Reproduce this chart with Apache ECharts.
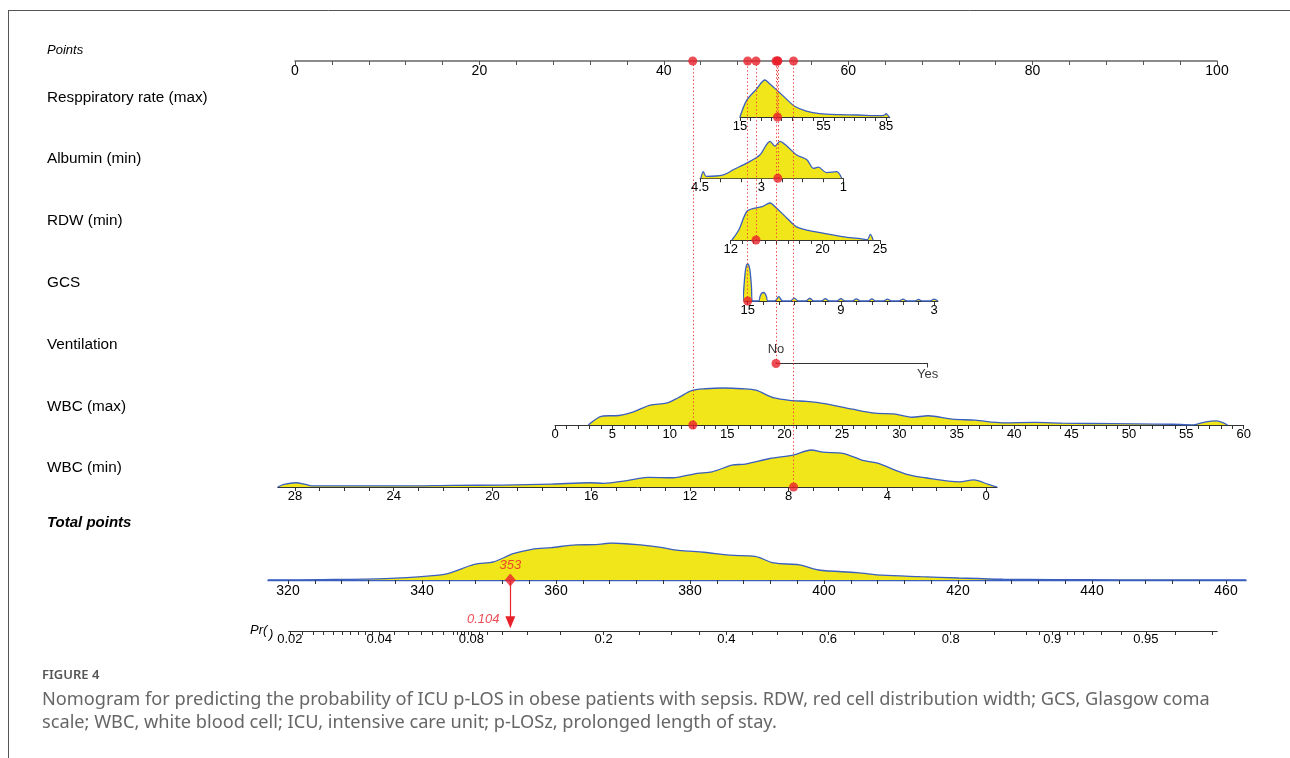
<!DOCTYPE html>
<html>
<head>
<meta charset="utf-8">
<title>Nomogram</title>
<script src="https://cdn.jsdelivr.net/npm/echarts@6/dist/echarts.min.js"></script>
<style>
  html, body { margin: 0; padding: 0; background: #fff; }
  #main { width: 1290px; height: 758px; }
</style>
</head>
<body>
<div id="main"></div>
<script>
// ---- values ----
const rowNames = ['Resppiratory rate (max)', 'Albumin (min)', 'RDW (min)', 'GCS', 'Ventilation', 'WBC (max)', 'WBC (min)'];

// value -> points: two reference values and their points
const rrRef = [15, 85],  rrPts = [48.26, 64.1];
const albRef = [4.5, 1], albPts = [43.93, 59.47];
const rdwRef = [12, 25], rdwPts = [47.26, 63.45];
const gcsRef = [15, 3],  gcsPts = [49.1, 69.31];
const ventRef = [0, 1],  ventPts = [52.17, 68.62];
const wbcMaxRef = [0, 60], wbcMaxPts = [28.2, 102.9];
const wbcMinRef = [28, 0], wbcMinPts = [0, 74.95];

// the patient marked in red
const patient = [33, 2.6, 14.2, 15, 0, 12, 7.8];
const predProb = 0.104;

// axis ranges, ticks and labels
const rrExt = [15, 86.8],   rrTicks = [15, 20, 25, 30, 35, 40, 45, 50, 55, 60, 65, 70, 75, 80, 85], rrLabels = [15, 55, 85];
const albExt = [1, 4.5],    albTicks = [1, 1.5, 2, 2.5, 3, 3.5, 4, 4.5], albLabels = [4.5, 3, 1];
const rdwExt = [12, 25],    rdwTicks = [12, 13, 14, 15, 16, 17, 18, 19, 20, 21, 22, 23, 24, 25], rdwLabels = [12, 20, 25];
const gcsExt = [2.75, 15.2], gcsTicks = [3, 4, 5, 6, 7, 8, 9, 10, 11, 12, 13, 14, 15], gcsLabels = [15, 9, 3];
const ventExt = [0, 1],     ventTicks = [1], ventLevels = ['No', 'Yes'];
const wbcMaxExt = [0, 60],  wbcMaxTicks = [0, 1, 2, 3, 4, 5, 6, 7, 8, 9, 10, 11, 12, 13, 14, 15, 16, 17, 18, 19, 20, 21, 22, 23, 24, 25, 26, 27, 28, 29, 30, 31, 32, 33, 34, 35, 36, 37, 38, 39, 40, 41, 42, 43, 44, 45, 46, 47, 48, 49, 50, 51, 52, 53, 54, 55, 56, 57, 58, 59, 60];
const wbcMaxLabels = [0, 5, 10, 15, 20, 25, 30, 35, 40, 45, 50, 55, 60];
const wbcMinExt = [-0.45, 28.7], wbcMinTicks = [0, 1, 2, 3, 4, 5, 6, 7, 8, 9, 10, 11, 12, 13, 14, 15, 16, 17, 18, 19, 20, 21, 22, 23, 24, 25, 26, 27, 28];
const wbcMinLabels = [28, 24, 20, 16, 12, 8, 4, 0];

const pointsLabels = [0, 20, 40, 60, 80, 100];
const totalExt = [317, 463];
const totalTicks = [320, 324, 328, 332, 336, 340, 344, 348, 352, 356, 360, 364, 368, 372, 376, 380, 384, 388, 392, 396, 400, 404, 408, 412, 416, 420, 424, 428, 432, 436, 440, 444, 448, 452, 456, 460];
const totalLabels = [320, 340, 360, 380, 400, 420, 440, 460];

// probability axis: logit(p) = prA + prB * total points
const prA = -21.03, prB = 0.05351;
const prExt = [320.1, 458.7];
const prLabels = [0.02, 0.04, 0.08, 0.2, 0.4, 0.6, 0.8, 0.9, 0.95];
const prTicks = [0.02, 0.022, 0.024, 0.026, 0.028, 0.03, 0.032, 0.034, 0.036, 0.038, 0.04, 0.045, 0.05, 0.055, 0.06, 0.065, 0.07, 0.072, 0.074,
  0.076, 0.078, 0.08, 0.085, 0.09, 0.1, 0.12, 0.15, 0.2, 0.25, 0.3, 0.35, 0.4, 0.45, 0.5, 0.55, 0.6, 0.65, 0.7, 0.75, 0.8, 0.85,
  0.88, 0.89, 0.9, 0.905, 0.91, 0.915, 0.92, 0.93, 0.94, 0.95, 0.96, 0.97];

// densities: [value, relative height]
const rrDensity = [[15, 0], [18.2, 0.45], [23, 0.76], [27, 1], [29.2, 0.9], [32.4, 0.74], [37.2, 0.49], [41.2, 0.29], [46.8, 0.16],
  [53.2, 0.09], [62.8, 0.063], [71.5, 0.054], [82, 0.035], [84.3, 0.05], [85, 0.09], [85.8, 0.05], [86.6, 0]];
const albDensity = [[1.04, 0], [1.16, 0.18], [1.41, 0.155], [1.61, 0.3], [1.73, 0.27], [1.89, 0.5], [2.14, 0.63], [2.38, 0.87],
  [2.55, 1.0], [2.67, 0.87], [2.79, 1.0], [3.04, 0.63], [3.36, 0.41], [3.69, 0.23], [3.93, 0.09], [4.35, 0.05], [4.42, 0.18], [4.48, 0]];
const rdwDensity = [[12.1, 0], [12.7, 0.27], [13.4, 0.77], [14.1, 0.86], [14.8, 0.91], [15.4, 1.0], [16.0, 0.86], [16.9, 0.59],
  [17.7, 0.36], [18.6, 0.27], [19.8, 0.2], [20.9, 0.136], [22.1, 0.073], [23.3, 0.036], [23.9, 0.01], [24.15, 0.15], [24.4, 0]];
const gcsDensity = [[2.75, 0], [3, 0.05], [3.25, 0], [3.75, 0], [4, 0.04], [4.25, 0], [4.75, 0], [5, 0.05], [5.25, 0], [5.75, 0], [6, 0.05],
  [6.25, 0], [6.75, 0], [7, 0.055], [7.25, 0], [7.75, 0], [8, 0.06], [8.25, 0], [8.75, 0], [9, 0.065], [9.25, 0], [9.75, 0], [10, 0.065],
  [10.25, 0], [10.75, 0], [11, 0.075], [11.25, 0], [11.75, 0], [12, 0.08], [12.25, 0], [12.75, 0], [13, 0.12], [13.25, 0], [13.7, 0],
  [13.8, 0.13], [13.9, 0.21], [14, 0.23], [14.1, 0.21], [14.2, 0.13], [14.3, 0], [14.7, 0], [14.76, 0.4], [14.84, 0.78], [14.92, 0.96],
  [15, 1], [15.08, 0.96], [15.16, 0.78], [15.24, 0.4], [15.3, 0]];
const wbcMaxDensity = [[2.9, 0], [3.9, 0.22], [4.7, 0.25], [5.3, 0.25], [6.7, 0.34], [8.3, 0.54], [9.7, 0.59], [10.7, 0.73], [11.9, 0.93],
  [13.1, 0.98], [14.7, 1.0], [16.3, 0.98], [17.5, 0.94], [19.1, 0.73], [20.7, 0.66], [21.9, 0.64], [23.5, 0.58], [25.9, 0.43],
  [27.9, 0.32], [29.5, 0.30], [31.1, 0.21], [32.5, 0.25], [34.6, 0.16], [36.6, 0.13], [39.0, 0.06], [41.8, 0.07], [44.2, 0.05],
  [46.6, 0.04], [50.6, 0.03], [53.8, 0.02], [55.5, 0.005], [56.6, 0.08], [57.6, 0.11], [58.6, 0]];
const wbcMinDensity = [[-0.45, 0], [-0.1, 0.07], [0.5, 0.19], [1.08, 0.14], [2.46, 0.25], [3.25, 0.35], [4.43, 0.65], [5.0, 0.72],
  [5.8, 0.91], [6.6, 0.94], [7.09, 1.0], [7.78, 0.87], [8.76, 0.77], [9.75, 0.62], [10.3, 0.59], [11.1, 0.41], [11.7, 0.37],
  [12.7, 0.25], [13.7, 0.26], [14.5, 0.18], [15.5, 0.10], [16.05, 0.115], [17.6, 0.08], [19.6, 0.05], [21.6, 0.045], [23.5, 0.03],
  [25.5, 0.03], [27.27, 0.03], [27.57, 0.07], [27.96, 0.115], [28.45, 0.07], [28.7, 0]];
const totalDensity = [[317, 0], [325, 0.01], [334.5, 0.036], [341.2, 0.11], [344, 0.18], [347.8, 0.42], [350.7, 0.49], [353.6, 0.71],
  [356.4, 0.83], [359.3, 0.875], [363, 0.95], [365.9, 0.955], [368.3, 1.0], [372.6, 0.95], [375.4, 0.89], [378.3, 0.80], [382.1, 0.75],
  [385.9, 0.67], [389.7, 0.64], [392.5, 0.46], [396.3, 0.41], [399.2, 0.27], [404.9, 0.2], [408.7, 0.13], [414.4, 0.09], [420.1, 0.054],
  [426.7, 0.02], [434.3, 0.01], [443.9, 0.005], [463, 0]];

// ---- layout ----
const PTS_X0 = 295, PTS_PX = 9.22;     // pixel of 0 points, pixels per point
const POINTS_Y = 61, DENS_H = 37;
const TOT_X0 = 288, TOT_PX = 6.7;       // pixel of 320 total points, pixels per total point
const TOTAL_Y = 580, PR_Y = 631;
const rowY = [117, 178.3, 240, 301, 363.5, 425, 487];
const labelY = [98, 159, 221, 283, 345, 407, 468];

const RED = '#e8202a', YEL = '#f1e619', BLUE = '#3a5fbf', AX = '#333';
const FONT = "'Liberation Sans', Arial, sans-serif";
const CAP_FONT = "'Noto Sans', sans-serif";

const rows = [
  { ref: rrRef, pts: rrPts, ext: rrExt, ticks: rrTicks, labels: rrLabels, dens: rrDensity },
  { ref: albRef, pts: albPts, ext: albExt, ticks: albTicks, labels: albLabels, dens: albDensity },
  { ref: rdwRef, pts: rdwPts, ext: rdwExt, ticks: rdwTicks, labels: rdwLabels, dens: rdwDensity },
  { ref: gcsRef, pts: gcsPts, ext: gcsExt, ticks: gcsTicks, labels: gcsLabels, dens: gcsDensity },
  { ref: ventRef, pts: ventPts, ext: ventExt, ticks: ventTicks, labels: [], dens: null },
  { ref: wbcMaxRef, pts: wbcMaxPts, ext: wbcMaxExt, ticks: wbcMaxTicks, labels: wbcMaxLabels, dens: wbcMaxDensity },
  { ref: wbcMinRef, pts: wbcMinPts, ext: wbcMinExt, ticks: wbcMinTicks, labels: wbcMinLabels, dens: wbcMinDensity }
];

function toPts(r, v) {
  return r.pts[0] + (v - r.ref[0]) * (r.pts[1] - r.pts[0]) / (r.ref[1] - r.ref[0]);
}
function prToTotal(p) { return (Math.log(p / (1 - p)) - prA) / prB; }
function totalToPr(t) { return 1 / (1 + Math.exp(-(prA + prB * t))); }

const grid = [], xAxis = [], yAxis = [], series = [];

function tickAxis(gi, ext, ticks, labels, extra) {
  return Object.assign({
    gridIndex: gi, type: 'value', min: ext[0], max: ext[1], position: 'bottom',
    axisLine: { show: true, onZero: false, lineStyle: { color: AX, width: 1 } },
    axisTick: { show: true, customValues: ticks, length: 4, lineStyle: { color: AX, width: 1 } },
    axisLabel: { customValues: labels, margin: 3, fontSize: 13, color: '#000', fontFamily: FONT },
    splitLine: { show: false }
  }, extra || {});
}

// points axis (grid 0)
grid.push({ left: PTS_X0, width: 100 * PTS_PX, top: POINTS_Y - 30, height: 30 });
xAxis.push(tickAxis(0, [0, 100], null, pointsLabels, {
  interval: 4,
  axisLine: { show: true, onZero: false, lineStyle: { color: '#666', width: 1.6 } },
  axisTick: { show: true, length: 4, lineStyle: { color: '#555', width: 1 } },
  axisLabel: { customValues: pointsLabels, margin: 3, fontSize: 14, color: '#000', fontFamily: FONT }
}));
yAxis.push({ gridIndex: 0, type: 'value', min: 0, max: 1, show: false });
series.push({
  type: 'scatter', xAxisIndex: 0, yAxisIndex: 0, clip: false, z: 6, symbolSize: 9,
  itemStyle: { color: RED }, silent: true,
  data: rows.map((r, i) => [toPts(r, patient[i]), 0])
});

// variable rows
rows.forEach((r, i) => {
  const gi = grid.length;
  const a = toPts(r, r.ext[0]), b = toPts(r, r.ext[1]);
  grid.push({
    left: PTS_X0 + Math.min(a, b) * PTS_PX, width: Math.abs(b - a) * PTS_PX,
    top: POINTS_Y, height: rowY[i] - POINTS_Y
  });
  xAxis.push(tickAxis(gi, r.ext, r.ticks, r.labels, { inverse: b < a }));
  yAxis.push({ gridIndex: gi, type: 'value', min: 0, max: (rowY[i] - POINTS_Y) / DENS_H, show: false });
  const guide = {
    silent: true, symbol: 'none', label: { show: false }, animation: false,
    lineStyle: { color: '#ee3b3b', type: [1.3, 2.4], width: 1 },
    data: [{ xAxis: patient[i] }]
  };
  if (r.dens) {
    series.push({
      type: 'line', xAxisIndex: gi, yAxisIndex: gi, data: r.dens, smooth: 0.3, symbol: 'none', z: 2, clip: false,
      lineStyle: { color: BLUE, width: 1.3 }, areaStyle: { color: YEL, opacity: 1 }, silent: true,
      markLine: guide
    });
    series.push({
      type: 'scatter', xAxisIndex: gi, yAxisIndex: gi, clip: false, z: 6, symbolSize: 9, silent: true,
      itemStyle: { color: RED }, data: [[patient[i], 0]]
    });
  } else {
    // ventilation: two levels, No above the line and Yes below
    series.push({
      type: 'scatter', xAxisIndex: gi, yAxisIndex: gi, clip: false, z: 6, silent: true, markLine: guide,
      data: ventLevels.map((lv, k) => ({
        value: [k, 0], symbolSize: k === patient[i] ? 9 : 0,
        itemStyle: { color: RED },
        label: { show: true, formatter: lv, position: k === 0 ? 'top' : 'bottom', distance: k === 0 ? 3 : 4,
          fontSize: 13, color: '#000', fontFamily: FONT }
      }))
    });
  }
});

// total points
const totalPts = rows.reduce((s, r, i) => s + toPts(r, patient[i]), 0);
const tg = grid.length;
grid.push({ left: TOT_X0 + (totalExt[0] - 320) * TOT_PX, width: (totalExt[1] - totalExt[0]) * TOT_PX, top: TOTAL_Y - DENS_H, height: DENS_H });
xAxis.push(tickAxis(tg, totalExt, totalTicks, totalLabels, {
  axisLine: { show: true, onZero: false, lineStyle: { color: BLUE, width: 1.3 } },
  axisLabel: { customValues: totalLabels, margin: 4, fontSize: 14, color: '#000', fontFamily: FONT }
}));
yAxis.push({ gridIndex: tg, type: 'value', min: 0, max: 1, show: false });
series.push({
  type: 'line', xAxisIndex: tg, yAxisIndex: tg, data: totalDensity, smooth: 0.3, symbol: 'none', z: 2, silent: true,
  lineStyle: { color: BLUE, width: 1.3 }, areaStyle: { color: YEL, opacity: 1 }
});
series.push({
  type: 'scatter', xAxisIndex: tg, yAxisIndex: tg, clip: false, z: 7, silent: true,
  symbol: 'diamond', symbolSize: [11, 13], itemStyle: { color: RED },
  label: { show: true, position: 'top', distance: 2, formatter: String(Math.round(totalPts)),
    color: RED, fontStyle: 'italic', fontSize: 13, fontFamily: FONT },
  data: [[totalPts, 0]]
});

// probability axis
const pg = grid.length;
grid.push({ left: TOT_X0 + (prExt[0] - 320) * TOT_PX, width: (prExt[1] - prExt[0]) * TOT_PX, top: TOTAL_Y, height: PR_Y - TOTAL_Y });
xAxis.push(tickAxis(pg, prExt, prTicks.map(prToTotal), prLabels.map(prToTotal), {
  axisLabel: {
    customValues: prLabels.map(prToTotal), margin: 2, fontSize: 13, color: '#000', fontFamily: FONT,
    formatter: v => {
      const p = totalToPr(v);
      let best = prLabels[0];
      prLabels.forEach(q => { if (Math.abs(q - p) < Math.abs(best - p)) best = q; });
      return String(best);
    }
  }
}));
yAxis.push({ gridIndex: pg, type: 'value', min: 0, max: 1, show: false });
series.push({
  type: 'scatter', xAxisIndex: pg, yAxisIndex: pg, clip: false, z: 7, silent: true,
  symbolSize: 0, data: [[prToTotal(predProb), 0.22]],
  label: { show: true, position: 'left', distance: 8, formatter: String(predProb),
    color: RED, fontStyle: 'italic', fontSize: 13, fontFamily: FONT },
  markLine: {
    silent: true, animation: false, symbol: ['none', 'triangle'], symbolSize: [10, 12],
    label: { show: false }, lineStyle: { color: RED, type: 'solid', width: 1.2 },
    data: [[{ coord: [totalPts, 1] }, { coord: [totalPts, 0.17] }]]
  }
});

// ---- text and frame ----
const txt = (x, y, s, style) => ({
  type: 'text', x: x, y: y, silent: true,
  style: Object.assign({ text: s, fill: '#000', font: '15.3px ' + FONT, verticalAlign: 'middle' }, style || {})
});
const graphic = [
  { type: 'line', silent: true, shape: { x1: 8, y1: 10.5, x2: 1290, y2: 10.5 }, style: { stroke: '#555', lineWidth: 1 } },
  { type: 'line', silent: true, shape: { x1: 8.5, y1: 10, x2: 8.5, y2: 758 }, style: { stroke: '#555', lineWidth: 1 } },
  txt(47, 50, 'Points', { font: 'italic 13px ' + FONT }),
  txt(47, 523, 'Total points', { font: 'italic bold 15px ' + FONT }),
  txt(250, 630, 'Pr(', { font: 'italic 13px ' + FONT }),
  txt(269, 634, ')', { font: 'italic 13px ' + FONT }),
  txt(42, 675, 'FIGURE 4', { font: '600 13px ' + CAP_FONT, fill: '#555' }),
  txt(42, 700, 'Nomogram for predicting the probability of ICU p-LOS in obese patients with sepsis. RDW, red cell distribution width; GCS, Glasgow coma',
    { font: '18.2px ' + CAP_FONT, fill: '#666' }),
  txt(42, 723, 'scale; WBC, white blood cell; ICU, intensive care unit; p-LOSz, prolonged length of stay.',
    { font: '18.2px ' + CAP_FONT, fill: '#666' })
].concat(rowNames.map((n, i) => txt(47, labelY[i], n)));

const chart = echarts.init(document.getElementById('main'));
chart.setOption({
  animation: false,
  backgroundColor: '#fff',
  grid: grid, xAxis: xAxis, yAxis: yAxis, series: series, graphic: graphic
});
</script>
</body>
</html>
